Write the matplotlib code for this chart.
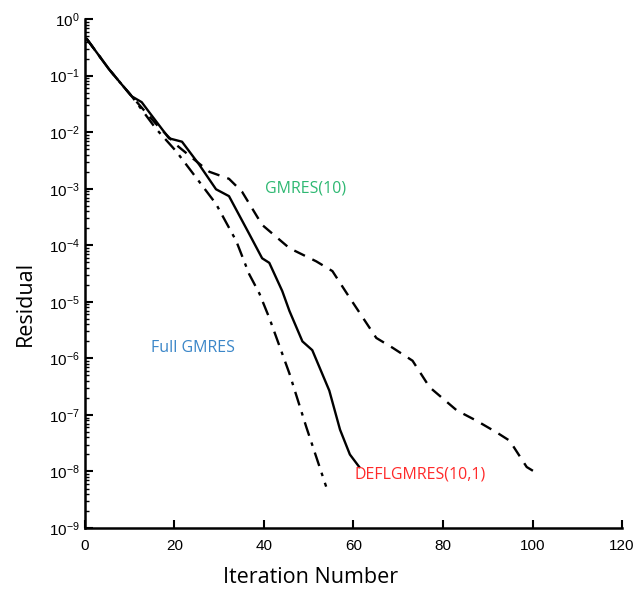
import matplotlib
matplotlib.use("Agg")
from matplotlib import pyplot as plt
from matplotlib.ticker import LogLocator, NullFormatter

# values (iteration, residual)
full_x = [0.4, 3.1, 5.4, 8.3, 10.5, 15.9, 20.4, 25.5, 29.3, 33.8, 36.7, 39.0, 41.2, 45.7, 49.5, 53.9]
full_y = [0.45, 0.23, 0.13, 0.069, 0.043, 0.0115, 4.6e-3, 1.35e-3, 5.4e-4, 1.2e-4, 3.1e-5,
          1.4e-5, 5.2e-6, 5.4e-7, 6.0e-8, 5.4e-9]

defl_x = [0.4, 3.1, 5.4, 8.3, 10.5, 12.7, 14.3, 18.8, 21.7, 25.5, 29.3, 32.2, 36.7, 39.6, 41.2,
          44.1, 45.7, 48.6, 50.8, 54.6, 57.0, 59.2, 61.3]
defl_y = [0.45, 0.23, 0.13, 0.069, 0.043, 0.034, 0.023, 7.8e-3, 6.8e-3, 2.7e-3, 9.8e-4, 7.4e-4,
          1.6e-4, 5.9e-5, 4.9e-5, 1.55e-5, 6.9e-6, 2.0e-6, 1.4e-6, 2.7e-7, 5.5e-8, 2.0e-8, 1.2e-8]

gm_x = [0.4, 3.1, 5.4, 8.3, 10.5, 15.9, 20.4, 24.0, 27.8, 32.2, 35.1, 39.6, 45.7, 51.7, 55.3,
        59.1, 65.1, 68.7, 73.2, 77.0, 83.1, 87.5, 92.0, 94.9, 98.7, 101.0]
gm_y = [0.45, 0.23, 0.13, 0.069, 0.043, 0.014, 6.0e-3, 3.5e-3, 2.0e-3, 1.5e-3, 8.9e-4, 2.3e-4,
        8.9e-5, 5.2e-5, 3.5e-5, 1.2e-5, 2.3e-6, 1.55e-6, 9.1e-7, 3.1e-7, 1.2e-7, 7.9e-8, 4.9e-8,
        3.5e-8, 1.2e-8, 9.3e-9]

x_ticks = [0, 20, 40, 60, 80, 100, 120]

plt.rcParams['font.family'] = ['Liberation Sans', 'DejaVu Sans']
plt.rcParams['mathtext.default'] = 'regular'

fig = plt.figure(figsize=(6.38, 5.98), dpi=100)
ax = fig.add_axes([0.133, 0.117, 0.842, 0.851])

ax.plot(full_x, full_y, color='black', linestyle=(0, (6, 3, 1.5, 3)), linewidth=1.7)
ax.plot(defl_x, defl_y, color='black', linestyle='-', linewidth=1.7)
ax.plot(gm_x, gm_y, color='black', linestyle=(0, (5, 3.5)), linewidth=1.7)

ax.set_yscale('log')
ax.set_xlim(0, 120)
ax.set_ylim(1e-9, 1e0)
ax.set_xticks(x_ticks)
ax.yaxis.set_major_locator(LogLocator(base=10, numticks=20))
ax.yaxis.set_minor_locator(LogLocator(base=10, subs=range(2, 10), numticks=20))
ax.yaxis.set_minor_formatter(NullFormatter())

ax.spines['top'].set_visible(False)
ax.spines['right'].set_visible(False)
ax.spines['left'].set_linewidth(1.8)
ax.spines['bottom'].set_linewidth(1.8)
ax.tick_params(direction='in', length=6, width=1.5, labelsize=11)
ax.tick_params(which='minor', direction='in', length=3, width=1.0)
ax.tick_params(axis='x', pad=8)

ax.set_xlabel("Iteration Number", fontsize=15.5, family='Open Sans')
ax.set_ylabel("Residual", fontsize=15.5, family='Open Sans')
ax.xaxis.set_label_coords(0.421, -0.077)
ax.yaxis.set_label_coords(-0.092, 0.442)

ax.text(49.2, 1e-3, "GMRES(10)", color='#2EB872', fontsize=11.5, family='Open Sans',
        ha='center', va='center')
ax.text(24.1, 1.55e-6, "Full GMRES", color='#3A86C8', fontsize=11.5, family='Open Sans',
        ha='center', va='center')
ax.text(74.9, 8.7e-9, "DEFLGMRES(10,1)", color='#FF2A2A', fontsize=11.5, family='Open Sans',
        ha='center', va='center')

fig.savefig("out.png", dpi=100)
